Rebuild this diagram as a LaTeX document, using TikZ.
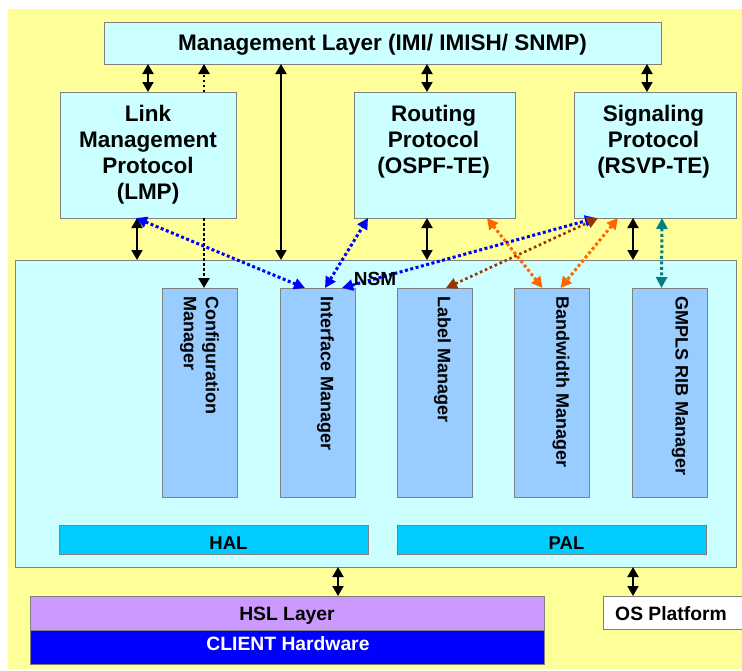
\documentclass[tikz,border=0pt]{standalone}
\usepackage{fontspec}
\setmainfont{Liberation Sans}
\usetikzlibrary{arrows.meta,calc}
\definecolor{bgyellow}{HTML}{FFFF99}
\definecolor{lcyan}{HTML}{CCFFFF}
\definecolor{mgrblue}{HTML}{99CCFF}
\definecolor{halcyan}{HTML}{00CCFF}
\definecolor{hslpurple}{HTML}{CC99FF}
\definecolor{bordergray}{HTML}{808080}
\definecolor{arrblue}{HTML}{0000FF}
\definecolor{arrorange}{HTML}{FF6600}
\definecolor{arrbrown}{HTML}{993300}
\definecolor{arrteal}{HTML}{008080}
\begin{document}
\begin{tikzpicture}[x=1pt,y=-1pt,
  box/.style={draw=bordergray,line width=0.9pt,inner sep=0pt,outer sep=0pt},
  ttl/.style={font=\bfseries\fontsize{22.5}{26}\selectfont,align=center,inner sep=0pt},
  mgr/.style={font=\bfseries\fontsize{18}{22}\selectfont,rotate=-90,anchor=west,align=left,inner sep=0pt},
  lbltxt/.style={font=\bfseries\fontsize{19.3}{22}\selectfont,inner sep=0pt,text height=13.8pt,text depth=0pt},
  dbl/.style={line width=1.9pt,{Triangle[length=10pt,width=11pt]}-{Triangle[length=10pt,width=11pt]}},
  dotarr/.style={line width=2.8pt,dash pattern=on 2.5pt off 2.5pt,-{Triangle[length=10pt,width=11pt]}},
  dotdbl/.style={line width=3pt,dash pattern=on 3pt off 2.5pt,{Triangle[length=11pt,width=11pt]}-{Triangle[length=11pt,width=11pt]}},
  bluearr/.style={dotdbl,draw=arrblue},
  brownarr/.style={dotdbl,draw=arrbrown,line width=2.6pt,dash pattern=on 2.6pt off 2.8pt},
  orangearr/.style={dotdbl,draw=arrorange},
  tealarr/.style={dotdbl,draw=arrteal}
]
\path[use as bounding box] (0,0) rectangle (742,670);
\clip (0,0) rectangle (742,670);
\fill[white] (0,0) rectangle (742,670);
\fill[bgyellow] (8,9) rectangle (742,669);

% NSM container
\node[box,fill=lcyan,minimum width=721pt,minimum height=307pt] (nsm) at (375.5,413.5) {};
% managers
\node[box,fill=mgrblue,minimum width=75pt,minimum height=209pt] (cfg) at (199.5,392.5) {};
\node[box,fill=mgrblue,minimum width=75pt,minimum height=209pt] (intf) at (317.5,392.5) {};
\node[box,fill=mgrblue,minimum width=75pt,minimum height=209pt] (lbl) at (434.5,392.5) {};
\node[box,fill=mgrblue,minimum width=75pt,minimum height=209pt] (bw) at (552,392.5) {};
\node[box,fill=mgrblue,minimum width=75pt,minimum height=209pt] (gmpls) at (670,392.5) {};
\node[mgr] (cfgt) at ($(cfg.north)+(0,8)$) {Configuration\\Manager};
\node[mgr] (intft) at ($(intf.north)+(8,8)$) {Interface Manager};
\node[mgr] (lblt) at ($(lbl.north)+(8,8)$) {Label Manager};
\node[mgr] (bwt) at ($(bw.north)+(9,8)$) {Bandwidth Manager};
\node[mgr] (gmplst) at ($(gmpls.north)+(10,8)$) {GMPLS RIB Manager};
% HAL / PAL
\node[box,fill=halcyan,minimum width=309pt,minimum height=29pt] (hal) at (213.5,539.5) {};
\node[box,fill=halcyan,minimum width=309pt,minimum height=29pt] (pal) at (551.5,539.5) {};
\node[lbltxt,font=\bfseries\fontsize{18.5}{22}\selectfont,text height=13.2pt] (halt) at ($(hal.center)+(15,3.5)$) {HAL};
\node[lbltxt,font=\bfseries\fontsize{18.5}{22}\selectfont,text height=13.2pt] (palt) at ($(pal.center)+(15,3.5)$) {PAL};

% top layer
\node[box,fill=lcyan,minimum width=557pt,minimum height=42pt] (mgmt) at (382.5,43) {};
\node[lbltxt,font=\bfseries\fontsize{22.5}{26}\selectfont,text height=16.1pt] (mgmtt) at ($(mgmt.center)+(0,-0.5)$) {Management Layer (IMI/ IMISH/ SNMP)};
\node[box,fill=lcyan,minimum width=176pt,minimum height=126pt] (lmp) at (148,155) {};
\node[box,fill=lcyan,minimum width=161pt,minimum height=126pt] (rout) at (434.5,155) {};
\node[box,fill=lcyan,minimum width=162pt,minimum height=126pt] (sig) at (655,155) {};
\node[ttl,anchor=north] (lmpt) at ($(lmp.north)+(0,13)$) {Link\\Management\\Protocol\\(LMP)};
\node[ttl,anchor=north] (routt) at ($(rout.north)+(-1,13)$) {Routing\\Protocol\\(OSPF-TE)};
\node[ttl,anchor=north] (sigt) at ($(sig.north)+(-1.5,13)$) {Signaling\\Protocol\\(RSVP-TE)};

% bottom
\node[box,fill=hslpurple,minimum width=514pt,minimum height=34pt] (hsl) at (287,613) {};
\node[box,fill=arrblue,minimum width=514pt,minimum height=34pt] (client) at (287,647) {};
\node[lbltxt] (hslt) at ($(hsl.center)+(0,0.5)$) {HSL Layer};
\node[lbltxt,text=white] (clientt) at ($(client.center)+(1,-3.5)$) {CLIENT Hardware};
\node[box,fill=white,minimum width=157pt,minimum height=33pt] (os) at (681.5,612.5) {};
\node[lbltxt] (ost) at (671,613.5) {OS Platform};

% column coordinates
\coordinate (xa) at (137,0);
\coordinate (xb) at (204,0);
\coordinate (xc) at (281,0);
\coordinate (xd) at (427,0);
\coordinate (xe) at (647,0);
\coordinate (xf) at (633,0);
\coordinate (xg) at (338,0);

% black connectors
\draw[dbl] (mgmt.south -| lmp.north) -- (lmp.north);
\draw[dotarr] (lmp.north -| xb) -- (mgmt.south -| xb);
\draw[dbl] (mgmt.south -| xc) -- (nsm.north -| xc);
\draw[dbl] (mgmt.south -| xd) -- (rout.north -| xd);
\draw[dbl] (mgmt.south -| xe) -- (sig.north -| xe);
\draw[dbl] (lmp.south -| xa) -- (nsm.north -| xa);
\draw[dotarr] (lmp.south -| xb) -- (cfg.north -| xb);
\draw[dbl] (rout.south -| xd) -- (nsm.north -| xd);
\draw[dbl] (sig.south -| xf) -- (nsm.north -| xf);
\draw[dbl] (nsm.south -| xg) -- (hsl.north -| xg);
\draw[dbl] (nsm.south -| xf) -- (os.north -| xf);

% coloured dotted connectors
\draw[bluearr] ([xshift=76pt]lmp.south west) -- ([xshift=25pt]intf.north west);
\draw[bluearr] ([xshift=45pt]intf.north west) -- ([xshift=14pt]rout.south west);
\draw[bluearr] ([xshift=62pt]intf.north west) -- ([xshift=22pt]sig.south west);
\draw[brownarr] ([xshift=49pt]lbl.north west) -- ([xshift=24pt]sig.south west);
\draw[orangearr] ([xshift=133pt]rout.south west) -- ([xshift=28pt]bw.north west);
\draw[orangearr] ([xshift=44pt]sig.south west) -- ([xshift=46pt]bw.north west);
\draw[tealarr] ([xshift=88pt]sig.south west) -- ([xshift=29pt]gmpls.north west);

\node[lbltxt,font=\bfseries\fontsize{19}{22}\selectfont,text height=13.6pt] (nsmt) at (375,278.5) {NSM};
\end{tikzpicture}
\end{document}
